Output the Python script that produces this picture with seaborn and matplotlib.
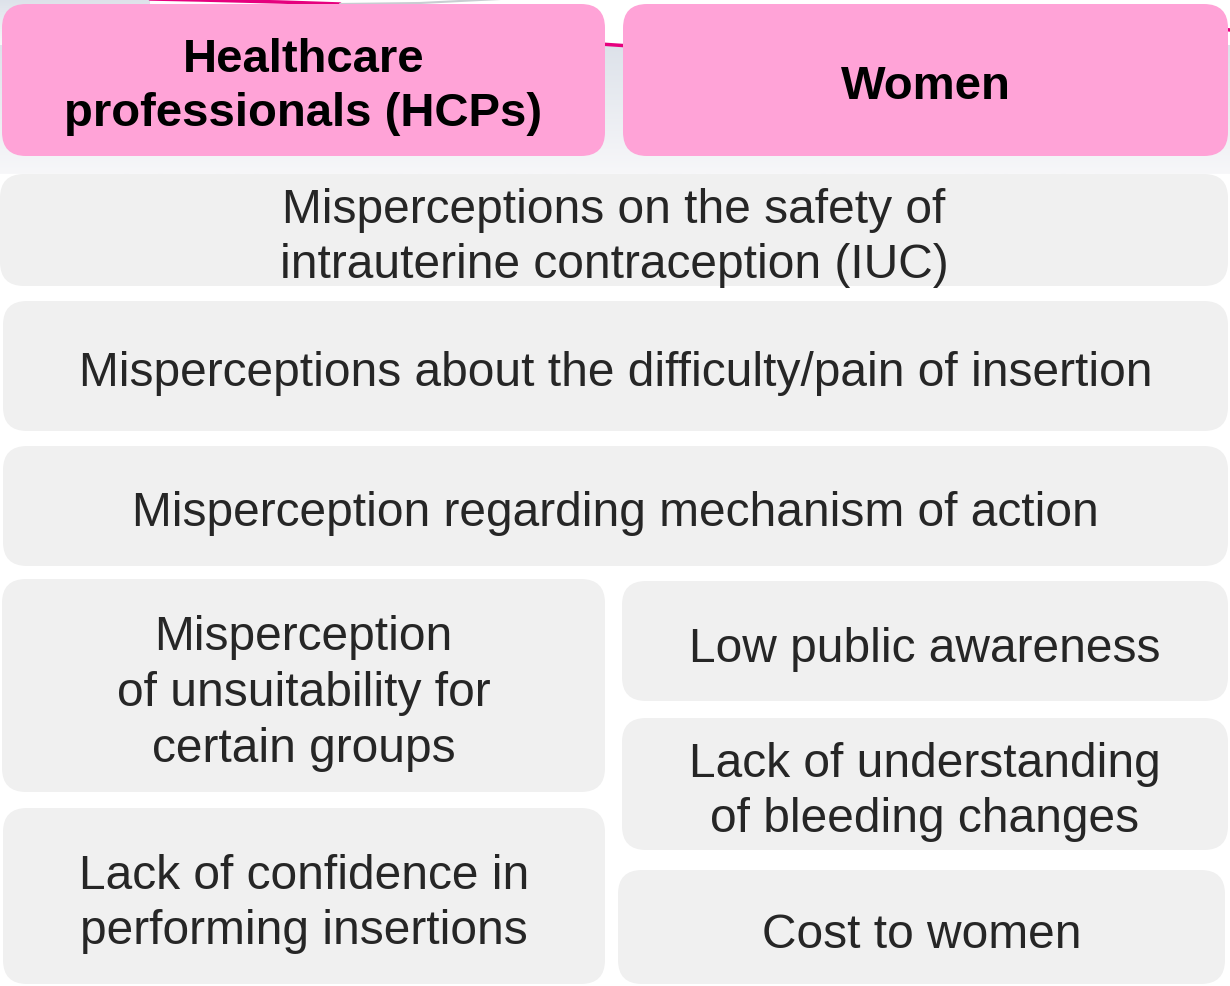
import numpy as np
import matplotlib
matplotlib.use("Agg")
import matplotlib.pyplot as plt
import seaborn as sns
from matplotlib.patches import FancyBboxPatch
from matplotlib.colors import LinearSegmentedColormap

# header labels
headers = ["Healthcare\nprofessionals (HCPs)", "Women"]

# barriers shared by both groups (full width rows)
shared = [
    "Misperceptions on the safety of\nintrauterine contraception (IUC)",
    "Misperceptions about the difficulty/pain of insertion",
    "Misperception regarding mechanism of action",
]

# barriers for HCPs only (left column)
hcp_only = [
    "Misperception\nof unsuitability for\ncertain groups",
    "Lack of confidence in\nperforming insertions",
]

# barriers for women only (right column)
women_only = [
    "Low public awareness",
    "Lack of understanding\nof bleeding changes",
    "Cost to women",
]

# box layout in pixels: (x0, y0, x1, y1)
header_boxes = [(2, 5, 605, 157), (623, 5, 1228, 157)]
shared_boxes = [(0, 175, 1228, 287), (3, 302, 1228, 432), (3, 447, 1228, 567)]
hcp_boxes = [(2, 580, 605, 793), (3, 809, 605, 985)]
women_boxes = [(622, 582, 1228, 702), (622, 719, 1228, 851), (618, 871, 1225, 985)]

sns.set_theme(style="white")
plt.rcParams["font.family"] = ["Liberation Sans", "DejaVu Sans"]

fig = plt.figure(figsize=(12.3, 9.87), dpi=100)
ax = fig.add_axes([0, 0, 1, 1])
ax.set_xlim(0, 1230)
ax.set_ylim(987, 0)
ax.axis("off")

# faint gradient backdrop behind the header row
grad = LinearSegmentedColormap.from_list("bg", ["#dde2ea", "#f7f7f9"])
ax.imshow(np.linspace(0, 1, 100).reshape(-1, 1), cmap=grad, aspect="auto",
          extent=(0, 1230, 175, 46), zorder=0)
ax.imshow(np.linspace(0.4, 1, 50).reshape(-1, 1), cmap=grad, aspect="auto",
          extent=(0, 150, 46, 0), zorder=0)
# thin magenta swoosh
ax.plot([150, 200, 280, 340], [0, 1, 3, 5], color="#e6007e", lw=2.5, zorder=1)
ax.plot([340, 420, 500], [5, 4, 0], color="#c8cdd2", lw=1.5, zorder=1)
ax.plot([600, 630], [45, 47], color="#e6007e", lw=2.5, zorder=1)
ax.plot([1222, 1230], [30, 31], color="#e6007e", lw=2.5, zorder=1)
ax.set_xlim(0, 1230)
ax.set_ylim(987, 0)


def box(b, text, fc, color, size, weight="normal", ls=1.3, dy=0):
    x0, y0, x1, y1 = b
    r = 24
    p = FancyBboxPatch((x0 + r, y0 + r), (x1 - x0) - 2 * r, (y1 - y0) - 2 * r,
                       boxstyle=f"round,pad={r},rounding_size={r}",
                       fc=fc, ec="none", zorder=2)
    ax.add_patch(p)
    ax.text((x0 + x1) / 2, (y0 + y1) / 2 + dy, text, ha="center", va="center",
            fontsize=size, color=color, weight=weight, linespacing=ls,
            zorder=3)


for b, t in zip(header_boxes, headers):
    box(b, t, "#ffa3d7", "black", 34, "bold", 1.3, 6)
for b, t in zip(shared_boxes, shared):
    box(b, t, "#f0f0f0", "#262626", 34.5, ls=1.3, dy=7)
for b, t in zip(hcp_boxes, hcp_only):
    box(b, t, "#f0f0f0", "#262626", 34.5, ls=1.3, dy=7)
for b, t in zip(women_boxes, women_only):
    box(b, t, "#f0f0f0", "#262626", 34.5, ls=1.3, dy=7)

fig.savefig("out.png", dpi=100)
